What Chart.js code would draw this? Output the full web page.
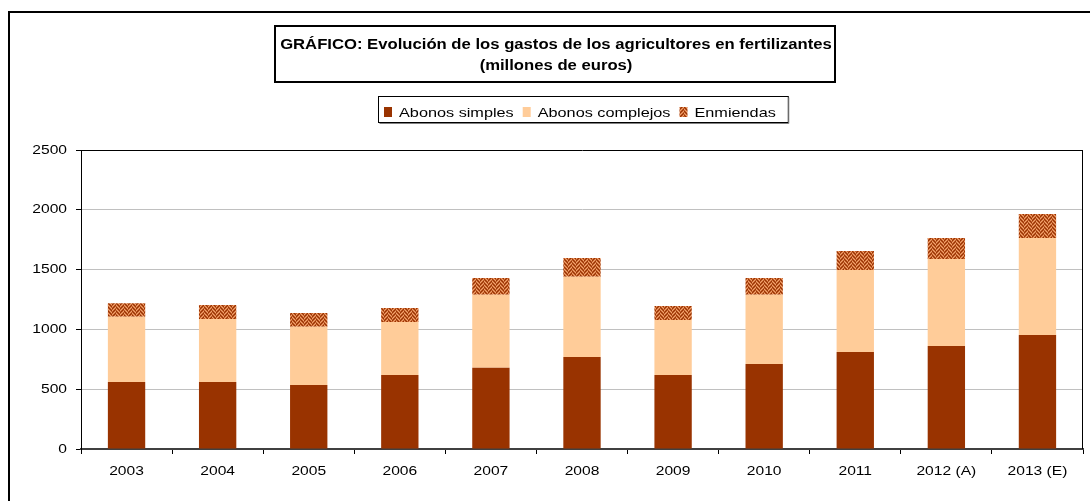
<!DOCTYPE html>
<html>
<head>
<meta charset="utf-8">
<script src="https://cdn.jsdelivr.net/npm/chart.js@4/dist/chart.umd.min.js"></script>
<style>
  html, body { margin: 0; padding: 0; background: #fff; }
  #c { display: block; }
</style>
</head>
<body>
<canvas id="c" width="1090" height="501"></canvas>
<script>
// ---- data ----
const categories = ['2003', '2004', '2005', '2006', '2007', '2008', '2009', '2010', '2011', '2012 (A)', '2013 (E)'];
const abonosSimples   = [560, 560, 535, 619, 680, 769, 619, 711, 811, 861, 953];
const abonosComplejos = [546, 527, 488, 443, 610, 672, 460, 579, 686, 728, 811];
const enmiendas       = [112, 117, 114, 117, 140, 156, 117, 140, 159, 175, 201];
const seriesNames = ['Abonos simples', 'Abonos complejos', 'Enmiendas'];
const yTicks = [0, 500, 1000, 1500, 2000, 2500];
const titleLines = ['GRÁFICO: Evolución de los gastos de los agricultores en fertilizantes', '(millones de euros)'];

const FONT = '"Liberation Sans", Arial, sans-serif';

const canvas = document.getElementById('c');
const ctx = canvas.getContext('2d');
// the reference text is horizontally stretched; draw text with a horizontal scale
const rawFill = ctx.fillText.bind(ctx);
ctx.sx = 1.2;
ctx.fillText = function (t, x, y, mw) {
  this.save();
  this.translate(x, y);
  this.scale(this.sx, 1);
  if (mw !== undefined && mw !== null) rawFill(t, 0, 0, mw / this.sx); else rawFill(t, 0, 0);
  this.restore();
};

// hatch pattern for "Enmiendas"
function makePattern() {
  const p = document.createElement('canvas');
  p.width = 8; p.height = 8;
  const g = p.getContext('2d');
  const tri = c => (c % 8 < 4 ? c % 4 : 3 - (c % 4));
  for (let r = 0; r < 8; r++) {
    for (let c = 0; c < 8; c++) {
      const k = (r + tri(c) + (c >= 4 ? 2 : 0)) % 4;
      g.fillStyle = k === 0 ? '#993300' : (k === 2 ? '#F2A36B' : '#C2602E');
      g.fillRect(c, r, 1, 1);
    }
  }
  return ctx.createPattern(p, 'repeat');
}
const hatch = makePattern();
const colors = ['#993300', '#FFCC99', hatch];

const decor = {
  id: 'decor',
  afterDraw(chart) {
    const c = chart.ctx;
    const a = chart.chartArea;
    c.save();
    // outer frame (cut off at right/bottom)
    c.strokeStyle = '#000';
    c.lineWidth = 2;
    c.beginPath();
    c.moveTo(9, 505); c.lineTo(9, 12); c.lineTo(1095, 12);
    c.stroke();
    // plot frame right side
    c.lineWidth = 1;
    c.beginPath();
    c.moveTo(Math.round(a.right) - 0.5, a.top); c.lineTo(Math.round(a.right) - 0.5, a.bottom);
    c.stroke();

    // title box
    c.lineWidth = 2;
    c.strokeStyle = '#000';
    c.strokeRect(275, 26, 560, 56);
    c.fillStyle = '#000';
    c.textAlign = 'center';
    c.textBaseline = 'alphabetic';
    c.font = 'bold 14px ' + FONT;
    c.sx = 1.19;
    c.fillText(titleLines[0], 556, 49);
    c.fillText(titleLines[1], 556, 70);

    // legend
    c.font = '13px ' + FONT;
    c.sx = 1.25;
    c.textAlign = 'left';
    let x = 384;
    const items = chart.data.datasets;
    items.forEach((ds, i) => {
      c.fillStyle = ds.backgroundColor;
      c.fillRect(x, 107, 8, 10);
      c.fillStyle = '#000';
      const tx = x + 15;
      c.fillText(ds.label, tx, 116.5);
      x = tx + c.measureText(ds.label).width * 1.25 + 9;
    });
    const right = x + 3;
    c.lineWidth = 1;
    c.strokeStyle = '#000';
    c.strokeRect(378.5, 96.5, right - 378, 26);
    c.strokeStyle = '#808080';
    c.beginPath();
    c.moveTo(379.5, 123.5); c.lineTo(right + 1, 123.5); c.lineTo(right + 1, 97.5);
    c.stroke();
    c.sx = 1.2;
    c.restore();
  }
};

new Chart(canvas, {
  type: 'bar',
  data: {
    labels: categories,
    datasets: [
      { label: seriesNames[0], data: abonosSimples, backgroundColor: colors[0] },
      { label: seriesNames[1], data: abonosComplejos, backgroundColor: colors[1] },
      { label: seriesNames[2], data: enmiendas, backgroundColor: colors[2] }
    ]
  },
  options: {
    responsive: false,
    animation: false,
    devicePixelRatio: 1,
    layout: { padding: { left: 9, right: 7, top: 150, bottom: 0 } },
    datasets: { bar: { categoryPercentage: 1.0, barPercentage: 0.41, borderWidth: 0 } },
    plugins: {
      legend: { display: false },
      title: { display: false },
      tooltip: { enabled: false }
    },
    scales: {
      x: {
        stacked: true,
        afterFit: s => { s.height = 52; },
        grid: { display: true, offset: true, drawOnChartArea: false, tickLength: 5, color: '#000' },
        border: { display: true, color: '#404040', width: 2 },
        ticks: { color: '#000', font: { family: FONT, size: 13 }, padding: 10, maxRotation: 0, autoSkip: false }
      },
      y: {
        stacked: true,
        min: 0,
        max: 2500,
        afterFit: s => { s.width = 72; },
        afterBuildTicks: s => { s.ticks = yTicks.map(v => ({ value: v })); },
        grid: {
          color: c => (c.tick && c.tick.value === 2500 ? '#000' : (c.tick && c.tick.value === 0 ? 'rgba(0,0,0,0)' : '#C0C0C0')),
          tickColor: '#000',
          tickLength: 5
        },
        border: { display: true, color: '#000', width: 1 },
        ticks: { color: '#000', font: { family: FONT, size: 13 }, padding: 9, callback: v => String(v) }
      }
    }
  },
  plugins: [decor]
});
</script>
</body>
</html>
